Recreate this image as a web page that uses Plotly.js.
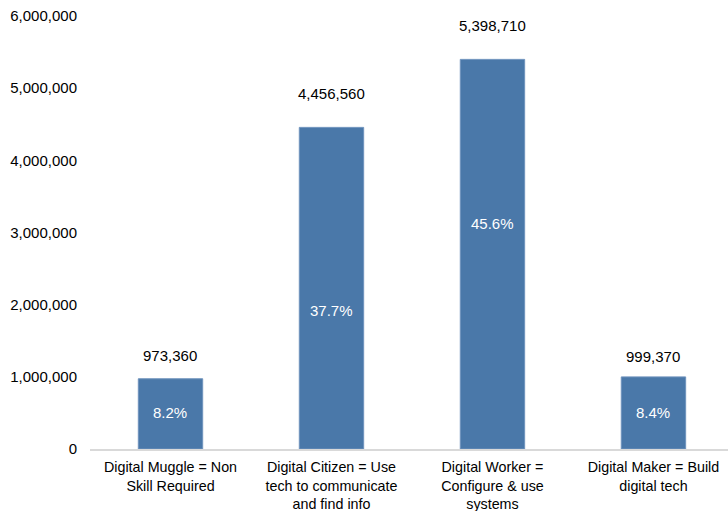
<!DOCTYPE html>
<html>
<head>
<meta charset="utf-8">
<script src="https://cdn.plot.ly/plotly-3.0.1.min.js"></script>
<style>html,body{margin:0;padding:0;background:#fff;}#chart{width:728px;height:511px;}</style>
</head>
<body>
<div id="chart"></div>
<script>
const categories = [
  "Digital Muggle = Non<br>Skill Required",
  "Digital Citizen = Use<br>tech to communicate<br>and find info",
  "Digital Worker =<br>Configure & use<br>systems",
  "Digital Maker = Build<br>digital tech"
];
const values = [973360, 4456560, 5398710, 999370];
const shares = ["8.2%", "37.7%", "45.6%", "8.4%"];
const shareLabelY = [500000, 1925000, 3130000, 500000];
const valueLabelShift = [13, 23, 23, 10];
const tickVals = [0, 1000000, 2000000, 3000000, 4000000, 5000000, 6000000];

const fontFam = "Liberation Sans, Arial, sans-serif";
const fs = 15;
const annotations = [];
categories.forEach((c, i) => {
  annotations.push({
    x: c, y: values[i], xref: "x", yref: "y",
    text: values[i].toLocaleString("en-US"),
    showarrow: false, yanchor: "bottom", yshift: valueLabelShift[i],
    font: {family: fontFam, size: fs, color: "#000"}
  });
  annotations.push({
    x: c, y: shareLabelY[i], xref: "x", yref: "y",
    text: shares[i], showarrow: false, yanchor: "middle",
    font: {family: fontFam, size: fs, color: "#fff"}
  });
});

Plotly.newPlot("chart", [{
  type: "bar",
  x: categories,
  y: values,
  marker: {color: "#4a78a9", line: {color: "#6f93bd", width: 1}},
  width: 0.4,
  hoverinfo: "none"
}], {
  width: 728, height: 511,
  margin: {l: 90, r: 0, t: 16, b: 62},
  paper_bgcolor: "#fff", plot_bgcolor: "#fff",
  showlegend: false,
  font: {family: fontFam, size: fs, color: "#000"},
  xaxis: {
    range: [-0.5, 3.463],
    showline: true, linecolor: "#d9d9d9", linewidth: 2,
    showgrid: false, zeroline: false, ticks: "",
    tickangle: 0,
    ticklabelstandoff: 4,
    tickfont: {family: fontFam, size: 14.3, color: "#000"}
  },
  yaxis: {
    range: [0, 6000000],
    tickvals: tickVals,
    ticktext: tickVals.map(v => v.toLocaleString("en-US")),
    showgrid: false, zeroline: false, showline: false, ticks: "",
    ticklabelstandoff: 12,
    tickfont: {family: fontFam, size: fs, color: "#000"}
  },
  annotations: annotations
}, {displayModeBar: false, staticPlot: true});
</script>
</body>
</html>
